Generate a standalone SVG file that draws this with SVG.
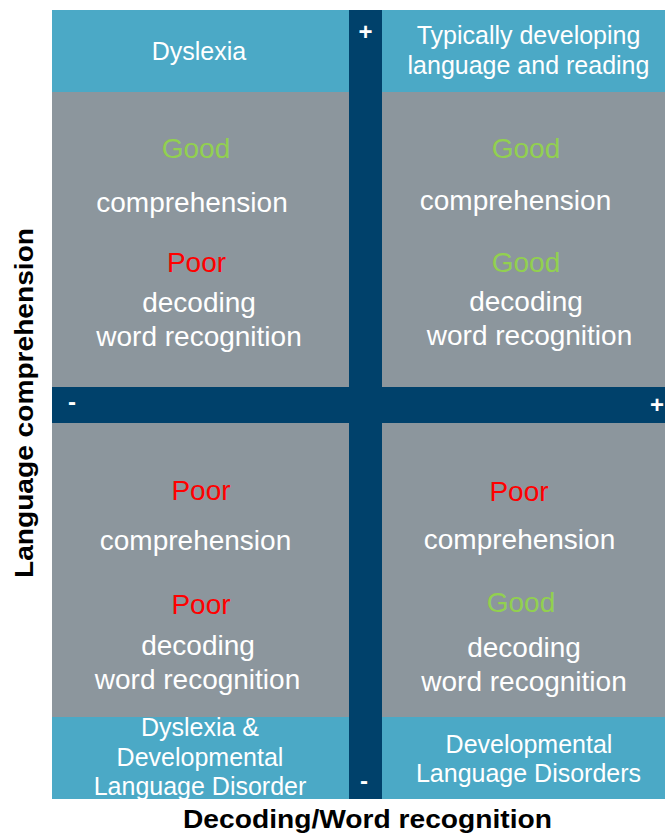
<svg xmlns="http://www.w3.org/2000/svg" width="665" height="834" viewBox="0 0 665 834">
<style>
.hdr{fill:#4BA9C6}
.gry{fill:#8C969D}
.bar{fill:#00416B}
text{font-family:"Liberation Sans",Arial,sans-serif;text-anchor:middle}
.w{fill:#FFFFFF;font-size:28px}
.g{fill:#92D050;font-size:28px}
.r{fill:#FF0000;font-size:28px}
.h{fill:#FFFFFF;font-size:25px}
.ax{fill:#000000;font-weight:bold;font-size:25px}
.sg{fill:#FFFFFF;font-weight:bold;font-size:24px}
</style>
<rect x="0" y="0" width="665" height="834" fill="#FFFFFF"/>
<g id="header-dyslexia">
<rect class="hdr" x="52" y="10" width="297" height="82"/>
<text class="h" x="199" y="60">Dyslexia</text>
</g>
<g id="header-typical">
<rect class="hdr" x="382" y="10" width="283" height="82"/>
<text class="h" x="528.5" y="44">Typically developing</text>
<text class="h" x="528.5" y="74">language and reading</text>
</g>
<g id="quad-tl">
<rect class="gry" x="52" y="92" width="297" height="295"/>
<text class="g" x="196" y="158">Good</text>
<text class="w" x="192" y="212">comprehension</text>
<text class="r" x="196.5" y="272">Poor</text>
<text class="w" x="199" y="312">decoding</text>
<text class="w" x="199" y="346">word recognition</text>
</g>
<g id="quad-tr">
<rect class="gry" x="382" y="92" width="283" height="295"/>
<text class="g" x="526" y="158">Good</text>
<text class="w" x="515.5" y="210">comprehension</text>
<text class="g" x="526" y="272">Good</text>
<text class="w" x="526" y="311">decoding</text>
<text class="w" x="529.5" y="345">word recognition</text>
</g>
<g id="quad-bl">
<rect class="gry" x="52" y="423" width="297" height="294"/>
<text class="r" x="201" y="500">Poor</text>
<text class="w" x="195.5" y="550">comprehension</text>
<text class="r" x="201" y="614">Poor</text>
<text class="w" x="198" y="655">decoding</text>
<text class="w" x="197.5" y="689">word recognition</text>
</g>
<g id="quad-br">
<rect class="gry" x="382" y="423" width="283" height="294"/>
<text class="r" x="519" y="501">Poor</text>
<text class="w" x="519.5" y="549">comprehension</text>
<text class="g" x="521" y="612">Good</text>
<text class="w" x="524" y="657">decoding</text>
<text class="w" x="524" y="691">word recognition</text>
</g>
<g id="footer-dyslexia-dld">
<rect class="hdr" x="52" y="717" width="297" height="82"/>
<text class="h" x="200" y="736">Dyslexia &amp;</text>
<text class="h" x="200" y="766">Developmental</text>
<text class="h" x="200" y="795">Language Disorder</text>
</g>
<g id="footer-dld">
<rect class="hdr" x="382" y="717" width="283" height="82"/>
<text class="h" x="529" y="753">Developmental</text>
<text class="h" x="528.5" y="782">Language Disorders</text>
</g>
<g id="axes">
<rect class="bar" x="349" y="10" width="33" height="789"/>
<rect class="bar" x="52" y="387" width="613" height="36"/>
<text class="sg" x="365.5" y="40">+</text>
<text class="sg" x="72" y="410">-</text>
<text class="sg" x="650" y="413" style="text-anchor:start">+</text>
<text class="sg" x="364" y="789">-</text>
</g>
<g id="axis-labels">
<text class="ax" x="367.5" y="828" textLength="369" lengthAdjust="spacingAndGlyphs">Decoding/Word recognition</text>
<text class="ax" transform="translate(33,403) rotate(-90)" x="0" y="0" textLength="350" lengthAdjust="spacingAndGlyphs">Language comprehension</text>
</g>
</svg>
